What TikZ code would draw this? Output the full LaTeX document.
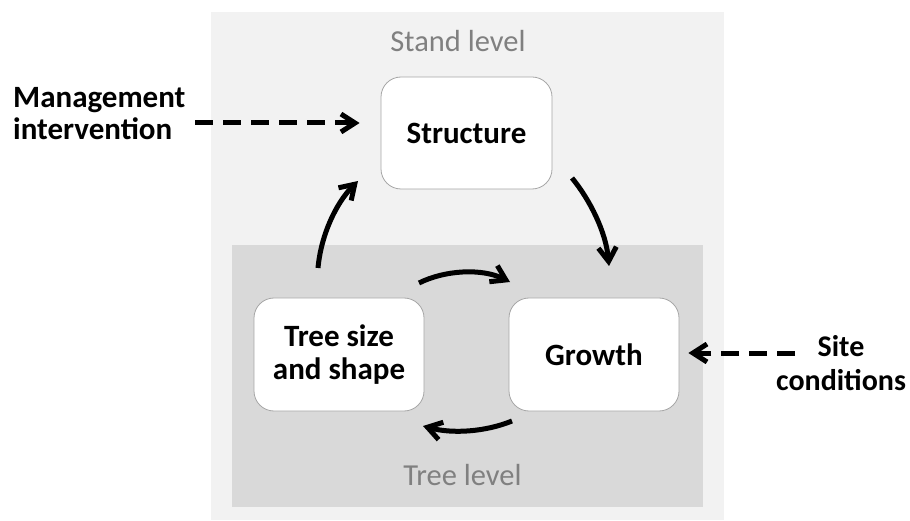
\documentclass[tikz,border=0pt]{standalone}
\usepackage{fontspec}
\setmainfont{Carlito}
\usetikzlibrary{arrows.meta}
\definecolor{outerbg}{HTML}{F2F2F2}
\definecolor{innerbg}{HTML}{D9D9D9}
\definecolor{lvlgray}{HTML}{808080}
\definecolor{boxline}{HTML}{A6A6A6}
\begin{document}
\begin{tikzpicture}[x=1pt,y=-1pt,
  box/.style={draw=boxline, line width=0.8pt, fill=white, rounded corners=20pt,
    inner sep=0pt, align=center, minimum width=170pt, minimum height=113pt,
    font=\fontsize{31}{33}\selectfont\bfseries},
  lvltext/.style={text=lvlgray, inner sep=0pt, font=\fontsize{30.5}{33}\selectfont},
  ext/.style={inner sep=0pt, font=\fontsize{31}{32.5}\selectfont\bfseries},
  tipbarb/.style={-{Straight Barb[length=14pt,width=18pt]}},
  curvearrow/.style={tipbarb, line width=5pt},
  dasharrow/.style={tipbarb, line width=5pt, dash pattern=on 18pt off 10pt}
]
\useasboundingbox (0,0) rectangle (910,521);
\fill[outerbg] (211,12) rectangle (724,520);
\fill[innerbg] (232,245) rectangle (703,507);

\node[box, minimum width=171pt, minimum height=112pt] (st) at (466.5,133) {Structure};
\node[box] (ts) at (339,354.5) {Tree size\\and shape};
\node[box] (gr) at (594,354.5) {Growth};

\node[lvltext, anchor=base] (sl) at (458,52) {Stand level};
\node[lvltext, anchor=base] (tl) at (462.5,485) {Tree level};

\node[ext, anchor=north west, align=left] (mi) at (13,87) {Management\\intervention};
\node[ext, anchor=north, align=center, font=\fontsize{30}{34}\selectfont\bfseries] (sc) at (841,335) {Site\\conditions};

\coordinate (mstart) at (195,123);
\draw[dasharrow, shorten >=21pt] (mstart) -- (st.west |- mstart);
\coordinate (sstart) at (795,353);
\draw[dasharrow, shorten >=9pt] (sstart) -- (gr.east |- sstart);

\coordinate (c1s) at (318,268); \coordinate (c1e) at (358,181);
\draw[curvearrow] (c1s) .. controls (321,235) and (336,203) .. (c1e);
\coordinate (c2s) at (572,178); \coordinate (c2e) at (609,266);
\draw[curvearrow] (c2s) .. controls (590,200) and (606,232) .. (c2e);
\coordinate (c3s) at (419,283); \coordinate (c3e) at (510,282);
\draw[curvearrow] (c3s) .. controls (445,270) and (482,268) .. (c3e);
\coordinate (c4s) at (512,421); \coordinate (c4e) at (423,426);
\draw[curvearrow] (c4s) .. controls (485,432) and (452,434) .. (c4e);
\end{tikzpicture}
\end{document}
